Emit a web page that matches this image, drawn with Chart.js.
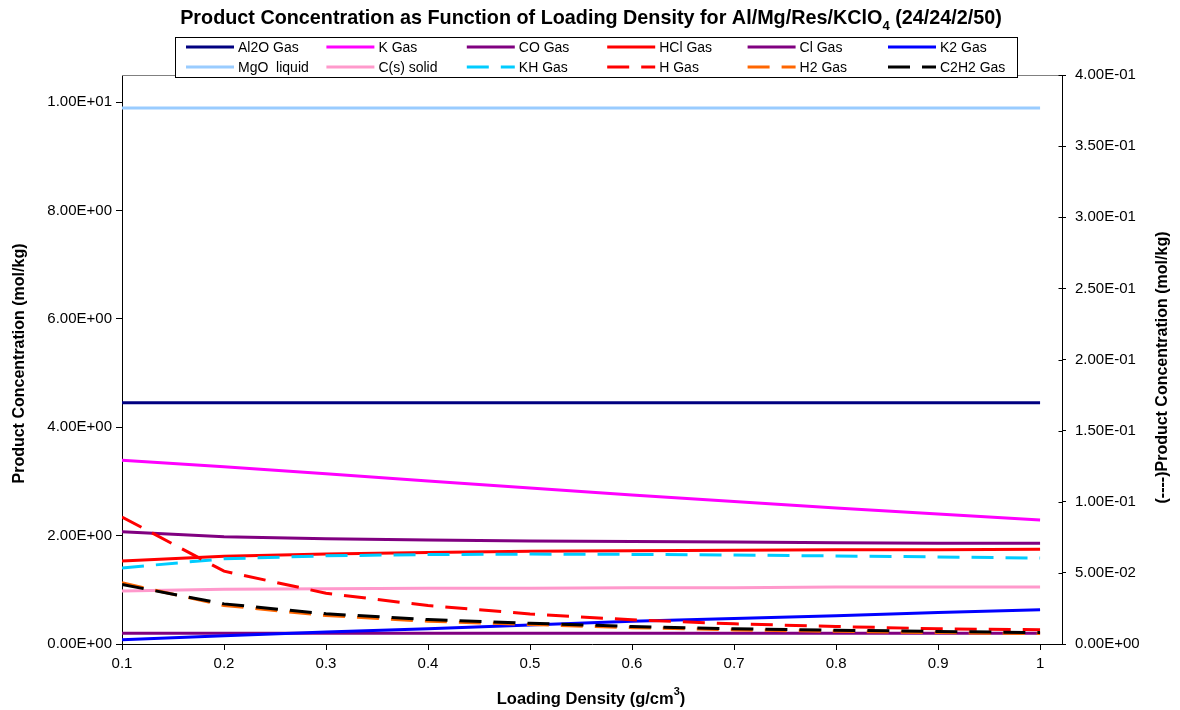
<!DOCTYPE html>
<html>
<head>
<meta charset="utf-8">
<script src="https://cdn.jsdelivr.net/npm/chart.js@4.4.1/dist/chart.umd.min.js"></script>
<style>
  html, body { margin: 0; padding: 0; background: #fff; }
  #wrap { width: 1180px; height: 710px; }
</style>
</head>
<body>
<div id="wrap"><canvas id="productChart" width="1180" height="710"></canvas></div>
<script>
// loading density (g/cm3)
const loadingDensity = [0.1, 0.2, 0.3, 0.4, 0.5, 0.6, 0.7, 0.8, 0.9, 1.0];

// left axis species (mol/kg)
const al2oGas   = [4.45, 4.45, 4.45, 4.45, 4.45, 4.45, 4.45, 4.45, 4.45, 4.45];
const kGas      = [3.39, 3.27, 3.14, 3.01, 2.88, 2.75, 2.63, 2.51, 2.40, 2.29];
const coGas     = [2.07, 1.98, 1.94, 1.92, 1.90, 1.89, 1.88, 1.87, 1.86, 1.86];
const hclGas    = [1.53, 1.62, 1.66, 1.69, 1.71, 1.72, 1.73, 1.74, 1.74, 1.75];
const clGas     = [0.20, 0.20, 0.20, 0.20, 0.20, 0.20, 0.20, 0.20, 0.20, 0.20];
const k2Gas     = [0.08, 0.15, 0.22, 0.28, 0.35, 0.42, 0.47, 0.52, 0.58, 0.63];
const mgoLiquid = [9.89, 9.89, 9.89, 9.89, 9.89, 9.89, 9.89, 9.89, 9.89, 9.89];
const cSolid    = [0.98, 1.01, 1.02, 1.03, 1.03, 1.04, 1.04, 1.05, 1.05, 1.05];

// right axis species, dashed (mol/kg)
const khGas   = [0.0535, 0.0599, 0.0620, 0.0629, 0.0632, 0.0630, 0.0625, 0.0619, 0.0612, 0.0604];
const hGas    = [0.0893, 0.0512, 0.0357, 0.0270, 0.0211, 0.0170, 0.0142, 0.0123, 0.0107, 0.0100];
const h2Gas   = [0.0430, 0.0271, 0.0200, 0.0160, 0.0137, 0.0115, 0.0099, 0.0089, 0.0080, 0.0073];
const c2h2Gas = [0.0418, 0.0282, 0.0212, 0.0172, 0.0146, 0.0123, 0.0107, 0.0097, 0.0088, 0.0080];

// tick labels
const leftTicks  = [0, 2, 4, 6, 8, 10];
const rightTicks = [0, 0.05, 0.1, 0.15, 0.2, 0.25, 0.3, 0.35, 0.4];

const FONT = "'Liberation Sans', Arial, sans-serif";

function pts(arr) {
  return arr.map((v, i) => ({ x: loadingDensity[i], y: v }));
}

function sci(v) {
  // 1.00E+01 style
  const s = Number(v).toExponential(2);
  const [m, e] = s.split('e');
  const n = parseInt(e, 10);
  return m + 'E' + (n < 0 ? '-' : '+') + String(Math.abs(n)).padStart(2, '0');
}

function series(label, arr, color, axis, dashed) {
  return {
    label: label,
    data: pts(arr),
    borderColor: color,
    backgroundColor: color,
    borderWidth: 3,
    borderDash: dashed ? [22, 12] : [],
    pointRadius: 0,
    tension: 0,
    yAxisID: axis
  };
}

const datasets = [
  series('Al2O Gas', al2oGas, '#000080', 'y', false),
  series('K Gas', kGas, '#FF00FF', 'y', false),
  series('CO Gas', coGas, '#800080', 'y', false),
  series('HCl Gas', hclGas, '#FF0000', 'y', false),
  series('Cl Gas', clGas, '#800080', 'y', false),
  series('K2 Gas', k2Gas, '#0000FF', 'y', false),
  series('MgO  liquid', mgoLiquid, '#99CCFF', 'y', false),
  series('C(s) solid', cSolid, '#FF99CC', 'y', false),
  series('KH Gas', khGas, '#00CCFF', 'y2', true),
  series('H Gas', hGas, '#FF0000', 'y2', true),
  series('H2 Gas', h2Gas, '#FF6600', 'y2', true),
  series('C2H2 Gas', c2h2Gas, '#000000', 'y2', true)
];
// later series paint over earlier ones
datasets.forEach((d, i) => { d.order = datasets.length - i; });

// titles, top border, right axis line with crossing ticks and the boxed legend
const decorations = {
  id: 'decorations',
  beforeDraw(chart) {
    const ctx = chart.ctx;
    ctx.save();
    ctx.fillStyle = '#fff';
    ctx.fillRect(0, 0, chart.width, chart.height);
    ctx.restore();
  },
  beforeDatasetsDraw(chart) {
    const ctx = chart.ctx;
    const a = chart.chartArea;
    ctx.save();
    ctx.strokeStyle = '#808080';
    ctx.lineWidth = 1;
    ctx.beginPath();
    ctx.moveTo(a.left, a.top + 0.5);
    ctx.lineTo(a.right, a.top + 0.5);
    ctx.stroke();
    const r = chart.scales.y2;
    const rx = Math.round(a.right) + 0.5;
    ctx.strokeStyle = '#000';
    ctx.beginPath();
    ctx.moveTo(rx, a.top);
    ctx.lineTo(rx, a.bottom + 1);
    r.ticks.forEach(t => {
      const py = Math.round(r.getPixelForValue(t.value)) + 0.5;
      ctx.moveTo(rx - 4, py);
      ctx.lineTo(rx, py);
    });
    ctx.stroke();
    ctx.restore();
  },
  afterDraw(chart) {
    const ctx = chart.ctx;
    const a = chart.chartArea;
    ctx.save();
    ctx.fillStyle = '#000';
    ctx.textBaseline = 'middle';

    // main title with subscript
    const t1 = 'Product Concentration as Function of Loading Density for Al/Mg/Res/KClO';
    const t2 = '4';
    const t3 = ' (24/24/2/50)';
    ctx.font = 'bold 19.8px ' + FONT;
    const w1 = ctx.measureText(t1).width;
    const w3 = ctx.measureText(t3).width;
    ctx.font = 'bold 13px ' + FONT;
    const w2 = ctx.measureText(t2).width;
    let x = 591 - (w1 + w2 + w3) / 2;
    ctx.textAlign = 'left';
    ctx.font = 'bold 19.8px ' + FONT;
    ctx.fillText(t1, x, 19);
    ctx.font = 'bold 13px ' + FONT;
    ctx.fillText(t2, x + w1, 26);
    ctx.font = 'bold 19.8px ' + FONT;
    ctx.fillText(t3, x + w1 + w2, 19);

    // x axis title with superscript
    const b1 = 'Loading Density (g/cm';
    const b2 = '3';
    const b3 = ')';
    ctx.font = 'bold 16.5px ' + FONT;
    const bw1 = ctx.measureText(b1).width;
    const bw3 = ctx.measureText(b3).width;
    ctx.font = 'bold 11px ' + FONT;
    const bw2 = ctx.measureText(b2).width;
    x = 591 - (bw1 + bw2 + bw3) / 2;
    ctx.font = 'bold 16.5px ' + FONT;
    ctx.fillText(b1, x, 699);
    ctx.font = 'bold 11px ' + FONT;
    ctx.fillText(b2, x + bw1, 692);
    ctx.font = 'bold 16.5px ' + FONT;
    ctx.fillText(b3, x + bw1 + bw2, 699);

    // y axis titles, both read bottom to top
    const midY = (a.top + a.bottom) / 2;
    ctx.font = 'bold 16px ' + FONT;
    ctx.textAlign = 'center';
    ctx.save();
    ctx.translate(20, midY + 4);
    ctx.rotate(-Math.PI / 2);
    ctx.fillText('Product Concentration (mol/kg)', 0, 0);
    ctx.restore();
    ctx.save();
    ctx.translate(1163, midY + 8);
    ctx.rotate(-Math.PI / 2);
    ctx.fillText('(----)Product Concentration (mol/kg)', 0, 0);
    ctx.restore();

    // legend box
    const lx = 175, ly = 37, lw = 842, lh = 40;
    ctx.fillStyle = '#fff';
    ctx.fillRect(lx, ly, lw, lh);
    ctx.strokeStyle = '#000';
    ctx.lineWidth = 1;
    ctx.strokeRect(lx + 0.5, ly + 0.5, lw, lh);
    ctx.font = '14px ' + FONT;
    ctx.textAlign = 'left';
    chart.data.datasets.forEach((d, i) => {
      const col = i % 6, row = Math.floor(i / 6);
      const sx = 186 + col * 140.4;
      const sy = 47 + row * 20;
      ctx.strokeStyle = d.borderColor;
      ctx.lineWidth = 3;
      ctx.setLineDash(d.borderDash);
      ctx.beginPath();
      ctx.moveTo(sx, sy);
      ctx.lineTo(sx + 48, sy);
      ctx.stroke();
      ctx.setLineDash([]);
      ctx.fillStyle = '#000';
      ctx.fillText(d.label, sx + 52, sy + 1);
    });
    ctx.restore();
  }
};

const tickFont = { family: FONT, size: 15 };

new Chart(document.getElementById('productChart'), {
  type: 'line',
  data: { datasets: datasets },
  plugins: [decorations],
  options: {
    responsive: false,
    animation: false,
    devicePixelRatio: 1,
    layout: { padding: { top: 75, left: 0, right: 0, bottom: 0 } },
    plugins: {
      legend: { display: false },
      title: { display: false },
      tooltip: { enabled: false }
    },
    scales: {
      x: {
        type: 'linear',
        position: 'bottom',
        min: 0.1,
        max: 1.0215,
        afterBuildTicks: (scale) => { scale.ticks = loadingDensity.map(v => ({ value: v })); },
        afterFit: (scale) => { scale.height = 66; },
        grid: { drawOnChartArea: false, drawTicks: true, tickLength: 6, tickColor: '#000' },
        border: { display: true, color: '#000', width: 1 },
        ticks: {
          font: tickFont,
          color: '#000',
          padding: 5,
          maxRotation: 0,
          autoSkip: false,
          callback: (v) => String(Number(Number(v).toFixed(1)))
        }
      },
      y: {
        type: 'linear',
        position: 'left',
        min: 0,
        max: 10.5,
        afterBuildTicks: (scale) => { scale.ticks = leftTicks.map(v => ({ value: v })); },
        afterFit: (scale) => { scale.width = 122; },
        grid: { drawOnChartArea: false, drawTicks: true, tickLength: 6, tickColor: '#000' },
        border: { display: true, color: '#000', width: 1 },
        ticks: { font: tickFont, color: '#000', padding: 4, callback: (v) => sci(v) }
      },
      y2: {
        type: 'linear',
        position: 'right',
        min: 0,
        max: 0.4,
        afterBuildTicks: (scale) => { scale.ticks = rightTicks.map(v => ({ value: v })); },
        afterFit: (scale) => { scale.width = 118; },
        grid: { drawOnChartArea: false, drawTicks: true, tickLength: 4, tickColor: '#000' },
        border: { display: true, color: '#000', width: 1 },
        ticks: { font: tickFont, color: '#000', padding: 9, callback: (v) => sci(v) }
      }
    }
  }
});
</script>
</body>
</html>
